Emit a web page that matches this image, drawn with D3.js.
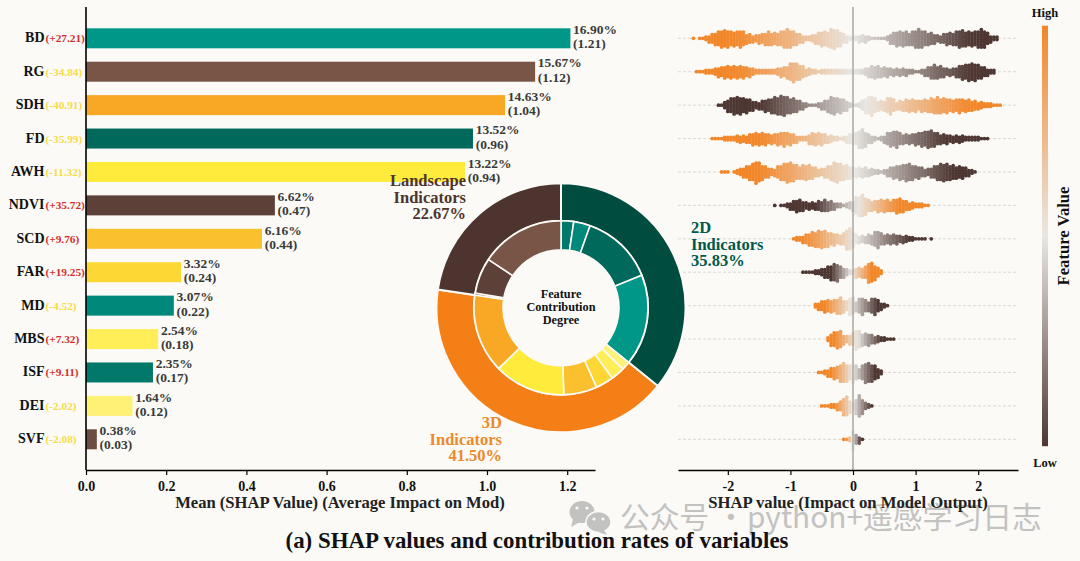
<!DOCTYPE html>
<html>
<head>
<meta charset="utf-8">
<script src="https://cdn.jsdelivr.net/npm/d3@7"></script>
<style>
html, body { margin: 0; padding: 0; background: #fbfaf6; }
svg { display: block; }
text { font-family: "Liberation Serif", serif; font-weight: bold; }
</style>
</head>
<body>
<svg id="chart" width="1080" height="561"></svg>
<script>
// values
var features = ["BD", "RG", "SDH", "FD", "AWH", "NDVI", "SCD", "FAR", "MD", "MBS", "ISF", "DEI", "SVF"]
var meanShap = [1.208, 1.12, 1.045, 0.965, 0.945, 0.471, 0.439, 0.237, 0.219, 0.18, 0.167, 0.116, 0.027]
var percents = [16.90, 15.67, 14.63, 13.52, 13.22, 6.62, 6.16, 3.32, 3.07, 2.54, 2.35, 1.64, 0.38]
var meanLabels = ["1.21", "1.12", "1.04", "0.96", "0.94", "0.47", "0.44", "0.24", "0.22", "0.18", "0.17", "0.12", "0.03"]
var changes = ["+27.21", "-34.84", "-40.91", "-35.99", "-11.32", "+35.72", "+9.76", "+19.25", "-4.52", "+7.32", "+9.11", "-2.02", "-2.08"]
var barColors = ["#009688", "#795548", "#f9a825", "#00695c", "#ffeb3b", "#5d4037", "#fbc02d", "#fdd835", "#00897b", "#ffee58", "#00796b", "#fff176", "#6d4c41"]

var groupNames = ["2D", "3D", "Landscape"]
var groupPercents = [35.83, 41.50, 22.67]
var groupColors = ["#004d40", "#f57f17", "#4e342e"]
var innerOrder = ["ISF", "MD", "FD", "BD", "DEI", "MBS", "FAR", "SCD", "AWH", "SDH", "SVF", "NDVI", "RG"]

var shapTicks = [-2, -1, 0, 1, 2]
var meanTicks = [0, 0.2, 0.4, 0.6, 0.8, 1.0, 1.2]

// beeswarm: number of dots stacked in each 0.05 wide SHAP bin, from the first bin in swarmStart
var swarmStep = 0.05
var swarmStart = [-2.55, -2.50, -2.15, -2.25, -2.10, -1.25, -0.95, -0.80, -0.60, -0.40, -0.55, -0.50, -0.15]
// SHAP position where the feature value reaches high / low colour
var swarmHigh = [-1.9, -1.9, 1.9, -1.5, -1.5, 0.75, -0.8, 0.3, -0.45, -0.3, -0.35, -0.3, -0.12]
var swarmLow = [1.9, 1.9, -1.5, 1.5, 1.6, -0.6, 0.9, -0.35, 0.4, 0.45, 0.35, 0.3, 0.12]
var swarmCounts = [
    [1,0,1,1,2,3,4,5,6,7,7,7,6,6,6,7,6,4,4,3,3,4,4,5,6,5,5,5,6,7,8,7,6,5,4,3,2,2,3,4,5,6,6,6,8,8,7,6,4,3,2,1,2,3,3,3,2,1,1,1,1,1,2,4,5,6,6,6,6,5,6,7,8,7,6,5,5,4,3,3,4,5,5,5,6,7,7,6,6,6,6,7,8,7,5,3,2,2],
    [1,1,1,2,2,2,3,4,4,5,5,5,5,5,5,5,4,4,3,2,2,2,2,2,2,2,3,4,4,5,7,8,7,6,5,3,3,2,2,1,2,2,2,2,2,2,2,2,2,2,2,2,2,2,3,4,5,5,5,4,4,4,3,3,3,3,3,3,2,2,1,1,2,3,4,5,6,5,5,4,3,3,3,4,5,6,6,7,7,7,6,5,4,3,2,2],
    [1,1,3,5,6,7,7,7,6,6,5,4,3,3,4,5,5,6,7,7,8,8,7,6,6,5,4,3,2,1,1,1,2,3,4,5,7,7,6,6,5,4,2,1,1,2,4,6,7,8,6,4,4,4,6,7,5,3,4,4,5,5,5,5,4,5,5,5,6,6,7,6,6,6,5,5,5,6,5,5,5,4,4,3,3,2,2,2,1,1,1],
    [1,1,1,1,2,2,2,2,3,3,3,3,4,5,5,5,5,5,4,4,4,5,5,6,5,5,4,3,2,2,2,4,5,5,5,5,4,3,3,2,2,1,2,3,4,4,5,7,8,6,4,3,2,1,2,3,5,6,6,7,5,4,4,4,4,5,5,6,6,7,7,6,5,4,4,4,3,3,3,3,3,2,2,2,2,2,1,1,1],
    [1,1,1,0,1,2,3,4,5,6,7,9,8,6,5,4,3,3,5,6,7,8,8,7,6,5,6,6,6,5,4,3,3,4,5,6,8,8,7,6,6,5,4,4,4,4,4,3,3,2,2,1,2,3,4,5,5,6,6,7,7,6,5,5,4,3,3,4,5,6,7,7,7,6,6,5,5,5,4,3,2,1],
    [1,0,1,1,2,3,4,5,5,4,3,3,3,3,4,4,5,4,4,3,2,2,1,2,3,4,7,8,9,7,5,4,4,5,5,5,5,4,5,6,6,5,4,3,3,2,2,2,1,1],
    [1,2,2,3,4,5,6,6,7,7,7,6,5,5,4,4,5,8,9,6,4,3,3,3,4,4,6,7,5,4,4,4,4,4,3,3,3,2,2,1,1,1,1,0,1],
    [1,1,1,1,2,2,3,4,5,6,7,7,5,4,3,2,2,4,4,4,5,8,8,6,4,2],
    [2,3,4,5,5,5,5,6,7,5,4,7,7,4,6,7,5,4,6,7,5,3,2,1],
    [2,5,6,7,7,4,3,4,5,8,7,5,5,5,4,3,3,2,2,1,1,1],
    [1,1,2,3,4,5,5,7,8,7,6,8,6,4,6,8,8,7,6,4,2],
    [1,1,1,2,2,3,4,7,8,5,2,6,9,6,3,2,1],
    [1,1,2,8,4,3,1]
]

var dims = {
    width: 1080,
    height: 561,
    axisY: 470,
    barLeft: 86,
    barRight: 595,
    barTop: 7,
    swarmLeft: 678,
    swarmRight: 1018,
    firstRow: 38.3,
    lastRow: 439.3,
    barHeight: 20,
    dotR: 1.9,
    dotPitch: 2.5,
    donut: { x: 561, y: 307.7, r0: 58, r1: 87, r2: 124.5 }
}

var bg = "#fbfaf6"
var svg = d3.select("#chart")
svg.append("rect").attr("width", dims.width).attr("height", dims.height).attr("fill", bg)

var yScale = d3.scalePoint().domain(features).range([dims.firstRow, dims.lastRow])
var xBar = d3.scaleLinear().domain([0, 1.2693]).range([dims.barLeft, dims.barRight])
var xSwarm = d3.scaleLinear().domain([-2.796, 2.636]).range([dims.swarmLeft, dims.swarmRight])
var featureColor = d3.scaleLinear().domain([0, 0.5, 1]).range(["#4e3733", "#e9e7e3", "#f2872a"])

function styleAxis(g) {
    g.select(".domain").attr("stroke", "#000").attr("stroke-width", 1.6)
    g.selectAll(".tick line").attr("stroke", "#000").attr("stroke-width", 1.2)
    g.selectAll("text").attr("fill", "#111").style("font-size", "14px")
}

/* ---------- beeswarm panel ---------- */
var swarm = svg.append("g")
swarm.selectAll("line.row")
    .data(features)
    .enter()
    .append("line")
    .attr("class", "row")
    .attr("x1", dims.swarmLeft)
    .attr("x2", dims.swarmRight)
    .attr("y1", d => yScale(d))
    .attr("y2", d => yScale(d))
    .attr("stroke", "#d2d0cc")
    .attr("stroke-width", 0.8)
    .attr("stroke-dasharray", "3,2")

var dots = []
swarmCounts.forEach(function (counts, r) {
    var tone = d3.scaleLinear().domain([swarmLow[r], swarmHigh[r]]).range([0, 1]).clamp(true)
    counts.forEach(function (n, i) {
        var shap = swarmStart[r] + i * swarmStep
        // every second bin sits half a dot lower so the columns interlock
        var shift = (i % 2 === 1 && n > 2) ? 0.5 : 0
        for (var k = 0; k < n; k++) {
            dots.push({ shap: shap, row: features[r], off: k - (n - 1) / 2 + shift, fv: tone(shap) })
        }
    })
})

swarm.selectAll("circle")
    .data(dots)
    .enter()
    .append("circle")
    .attr("cx", d => xSwarm(d.shap))
    .attr("cy", d => yScale(d.row) + d.off * dims.dotPitch)
    .attr("r", dims.dotR)
    .attr("fill", d => featureColor(d.fv))

swarm.append("line")
    .attr("x1", xSwarm(0))
    .attr("x2", xSwarm(0))
    .attr("y1", dims.barTop)
    .attr("y2", dims.axisY)
    .attr("stroke", "#a3a19e")
    .attr("stroke-width", 1.4)

svg.append("g")
    .attr("transform", `translate(0,${dims.axisY})`)
    .call(d3.axisBottom(xSwarm).tickValues(shapTicks).tickSize(5).tickSizeOuter(0).tickPadding(6).tickFormat(d => String(d)))
    .call(styleAxis)

/* ---------- bar panel ---------- */
var bars = svg.append("g")
bars.selectAll("rect")
    .data(features)
    .enter()
    .append("rect")
    .attr("x", dims.barLeft)
    .attr("y", d => yScale(d) - dims.barHeight / 2)
    .attr("width", (d, i) => xBar(meanShap[i]) - dims.barLeft)
    .attr("height", dims.barHeight)
    .attr("fill", (d, i) => barColors[i])

svg.append("g")
    .attr("transform", `translate(0,${dims.axisY})`)
    .call(d3.axisBottom(xBar).tickValues(meanTicks).tickSize(5).tickSizeOuter(0).tickPadding(6).tickFormat(d3.format(".1f")))
    .call(styleAxis)

svg.append("line")
    .attr("x1", dims.barLeft)
    .attr("x2", dims.barLeft)
    .attr("y1", dims.barTop)
    .attr("y2", dims.axisY)
    .attr("stroke", "#000")
    .attr("stroke-width", 1.6)

bars.selectAll("text.name")
    .data(features)
    .enter()
    .append("text")
    .attr("class", "name")
    .attr("x", 44.5)
    .attr("y", d => yScale(d) + 4)
    .attr("text-anchor", "end")
    .attr("fill", "#111")
    .style("font-size", "14px")
    .text(d => d)

bars.selectAll("text.change")
    .data(features)
    .enter()
    .append("text")
    .attr("class", "change")
    .attr("x", 45.5)
    .attr("y", d => yScale(d) + 4)
    .attr("fill", (d, i) => changes[i][0] === "+" ? "#d32f2f" : "#f6dc4a")
    .style("font-size", "11.3px")
    .text((d, i) => "(" + changes[i] + ")")

bars.selectAll("text.pct")
    .data(features)
    .enter()
    .append("text")
    .attr("class", "pct")
    .attr("x", (d, i) => xBar(meanShap[i]) + 2.7)
    .attr("y", d => yScale(d) - 4.3)
    .attr("fill", "#3a3a3a")
    .style("font-size", "13.5px")
    .text((d, i) => percents[i].toFixed(2) + "%")

bars.selectAll("text.mean")
    .data(features)
    .enter()
    .append("text")
    .attr("class", "mean")
    .attr("x", (d, i) => xBar(meanShap[i]) + 2.7)
    .attr("y", d => yScale(d) + 10)
    .attr("fill", "#3a3a3a")
    .style("font-size", "13.5px")
    .text((d, i) => "(" + meanLabels[i] + ")")

/* ---------- donut ---------- */
var pie = d3.pie().sort(null)
var donut = svg.append("g").attr("transform", `translate(${dims.donut.x},${dims.donut.y})`)

var outerArc = d3.arc().innerRadius(dims.donut.r1).outerRadius(dims.donut.r2)
donut.selectAll("path.outer")
    .data(pie(groupPercents))
    .enter()
    .append("path")
    .attr("class", "outer")
    .attr("d", outerArc)
    .attr("fill", (d, i) => groupColors[i])
    .attr("stroke", bg)
    .attr("stroke-width", 2)

var innerValues = innerOrder.map(n => percents[features.indexOf(n)])
var innerArc = d3.arc().innerRadius(dims.donut.r0).outerRadius(dims.donut.r1)
donut.selectAll("path.inner")
    .data(pie(innerValues))
    .enter()
    .append("path")
    .attr("class", "inner")
    .attr("d", innerArc)
    .attr("fill", (d, i) => barColors[features.indexOf(innerOrder[i])])
    .attr("stroke", bg)
    .attr("stroke-width", 1.6)

function block(lines, x, y, size, gap, anchor, color) {
    var t = svg.append("text")
        .attr("text-anchor", anchor)
        .attr("fill", color)
        .style("font-size", size + "px")
    lines.forEach(function (s, i) {
        t.append("tspan").attr("x", x).attr("y", y + i * gap).text(s)
    })
}

block(["Feature", "Contribution", "Degree"], 561, 298, 12.3, 13.2, "middle", "#111")
block(["Landscape", "Indicators", groupPercents[2].toFixed(2) + "%"], 466, 186, 16.5, 16.6, "end", "#4e342e")
block(["3D", "Indicators", groupPercents[1].toFixed(2) + "%"], 502, 428, 16.5, 16.6, "end", "#ec8a2c")
block(["2D", "Indicators", groupPercents[0].toFixed(2) + "%"], 691, 233, 16.5, 16.6, "start", "#00594a")

/* ---------- colour bar ---------- */
var grad = svg.append("defs").append("linearGradient")
    .attr("id", "fvGrad")
    .attr("x1", 0).attr("x2", 0).attr("y1", 1).attr("y2", 0)
featureColor.domain().forEach(function (v) {
    grad.append("stop").attr("offset", v).attr("stop-color", featureColor(v))
})
svg.append("rect")
    .attr("x", 1042)
    .attr("y", 25.7)
    .attr("width", 6)
    .attr("height", 420.5)
    .attr("fill", "url(#fvGrad)")

svg.append("text").attr("x", 1045).attr("y", 17).attr("text-anchor", "middle").attr("fill", "#111")
    .style("font-size", "12.5px").text("High")
svg.append("text").attr("x", 1045).attr("y", 467).attr("text-anchor", "middle").attr("fill", "#111")
    .style("font-size", "12.5px").text("Low")
svg.append("text")
    .attr("transform", "translate(1069,236) rotate(-90)")
    .attr("text-anchor", "middle")
    .attr("fill", "#111")
    .style("font-size", "16.6px")
    .text("Feature Value")

/* ---------- watermark ---------- */
var markColor = "#c2c2c1"
var mark = svg.append("g")
mark.append("ellipse").attr("cx", 582).attr("cy", 512).attr("rx", 12.5).attr("ry", 11).attr("fill", markColor)
mark.append("path").attr("d", "M573,519L571,527L580,522Z").attr("fill", markColor)
mark.append("ellipse").attr("cx", 598.5).attr("cy", 522).attr("rx", 12.5).attr("ry", 10.5)
    .attr("fill", markColor).attr("stroke", bg).attr("stroke-width", 1.5)
mark.append("path").attr("d", "M604,530L607,535L598,532Z").attr("fill", markColor)
mark.selectAll("circle.eye")
    .data([[577, 508], [587, 508], [594, 519], [603, 519]])
    .enter()
    .append("circle")
    .attr("class", "eye")
    .attr("cx", d => d[0])
    .attr("cy", d => d[1])
    .attr("r", 1.6)
    .attr("fill", bg)
var markText = svg.append("text")
    .attr("y", 527.5)
    .attr("fill", markColor)
    .style("font-family", '"Noto Sans CJK SC", sans-serif')
    .style("font-weight", "normal")
    .style("font-size", "29.8px")
markText.append("tspan").attr("x", 620).text("公众号 ·")
markText.append("tspan").attr("x", 747).text("python+遥感学习日志")

/* ---------- titles ---------- */
svg.append("text").attr("x", 340).attr("y", 508).attr("text-anchor", "middle").attr("fill", "#222")
    .style("font-size", "16.6px").text("Mean (SHAP Value) (Average Impact on Mod)")
svg.append("text").attr("x", 848).attr("y", 508).attr("text-anchor", "middle").attr("fill", "#222")
    .style("font-size", "16.7px").text("SHAP value (Impact on Model Output)")
svg.append("text").attr("x", 537).attr("y", 548).attr("text-anchor", "middle").attr("fill", "#111")
    .style("font-size", "22.9px").text("(a) SHAP values and contribution rates of variables")
</script>
</body>
</html>
